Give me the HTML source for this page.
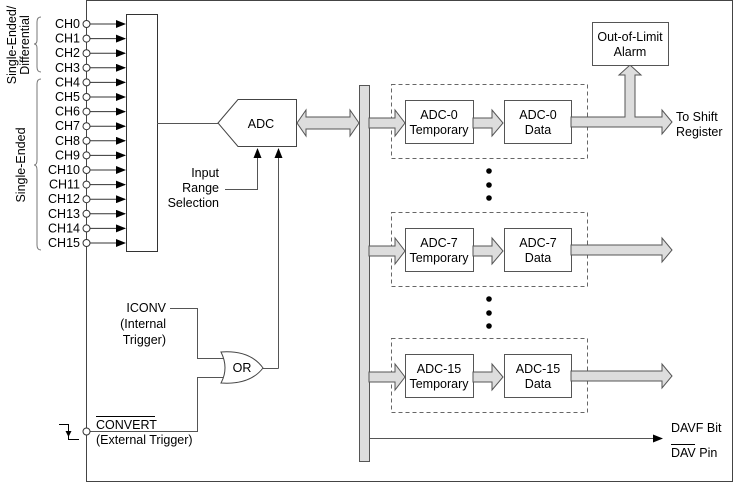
<!DOCTYPE html>
<html><head><meta charset="utf-8"><style>
html,body{margin:0;padding:0;background:#fff}
svg{display:block}
text{font-family:"Liberation Sans",Arial,sans-serif;font-size:12.5px;fill:#000}
</style></head><body>
<svg width="736" height="483" viewBox="0 0 736 483" xmlns="http://www.w3.org/2000/svg">
<defs>
<marker id="ah" markerWidth="10" markerHeight="8" refX="9" refY="4" orient="auto" markerUnits="userSpaceOnUse">
<path d="M0,0 L10,4 L0,8 Z" fill="#000"/></marker>
<g id="grp">
<rect x="391.5" y="84.5" width="196" height="74" fill="none" stroke="#666" stroke-dasharray="4,3"/>
<path d="M369,118 H395 V110 L405,123 L395,136 V128 H369 Z" fill="#ddd" stroke="#555"/>
<rect x="405.5" y="100.5" width="68" height="43" fill="#fff" stroke="#555"/>
<path d="M473,118 H492 V110 L503,123 L492,136 V128 H473 Z" fill="#ddd" stroke="#555"/>
<rect x="504.5" y="100.5" width="67" height="43" fill="#fff" stroke="#555"/>
</g>
</defs>
<path d="M86.5,0 V481.5 H732.5 V0.5 H86.5" fill="none" stroke="#444"/>
<path d="M41,17 Q37,17 37,22 V40 Q37,44 34,44 Q37,44 37,48 V67 Q37,72 41,72" fill="none" stroke="#777"/>
<path d="M41,79 Q37,79 37,84 V160 Q37,165 34,165 Q37,165 37,170 V245 Q37,250 41,250" fill="none" stroke="#777"/>
<text transform="translate(16,45) rotate(-90)" text-anchor="middle">Single-Ended/</text>
<text transform="translate(29,45) rotate(-90)" text-anchor="middle">Differential</text>
<text transform="translate(25,165) rotate(-90)" text-anchor="middle">Single-Ended</text>
<rect x="126.5" y="14.5" width="31" height="237" fill="#fff" stroke="#333"/>
<g>
<text x="80" y="28" text-anchor="end">CH0</text>
<text x="80" y="42.6" text-anchor="end">CH1</text>
<text x="80" y="57.2" text-anchor="end">CH2</text>
<text x="80" y="71.8" text-anchor="end">CH3</text>
<text x="80" y="86.4" text-anchor="end">CH4</text>
<text x="80" y="101" text-anchor="end">CH5</text>
<text x="80" y="115.6" text-anchor="end">CH6</text>
<text x="80" y="130.2" text-anchor="end">CH7</text>
<text x="80" y="144.8" text-anchor="end">CH8</text>
<text x="80" y="159.4" text-anchor="end">CH9</text>
<text x="80" y="174" text-anchor="end">CH10</text>
<text x="80" y="188.6" text-anchor="end">CH11</text>
<text x="80" y="203.2" text-anchor="end">CH12</text>
<text x="80" y="217.8" text-anchor="end">CH13</text>
<text x="80" y="232.4" text-anchor="end">CH14</text>
<text x="80" y="247" text-anchor="end">CH15</text>
</g>
<g stroke="#333" stroke-width="1" fill="#fff">
<line x1="90" y1="24" x2="125" y2="24" marker-end="url(#ah)"/><circle cx="86.5" cy="24" r="3.5"/>
<line x1="90" y1="38.6" x2="125" y2="38.6" marker-end="url(#ah)"/><circle cx="86.5" cy="38.6" r="3.5"/>
<line x1="90" y1="53.2" x2="125" y2="53.2" marker-end="url(#ah)"/><circle cx="86.5" cy="53.2" r="3.5"/>
<line x1="90" y1="67.8" x2="125" y2="67.8" marker-end="url(#ah)"/><circle cx="86.5" cy="67.8" r="3.5"/>
<line x1="90" y1="82.4" x2="125" y2="82.4" marker-end="url(#ah)"/><circle cx="86.5" cy="82.4" r="3.5"/>
<line x1="90" y1="97" x2="125" y2="97" marker-end="url(#ah)"/><circle cx="86.5" cy="97" r="3.5"/>
<line x1="90" y1="111.6" x2="125" y2="111.6" marker-end="url(#ah)"/><circle cx="86.5" cy="111.6" r="3.5"/>
<line x1="90" y1="126.2" x2="125" y2="126.2" marker-end="url(#ah)"/><circle cx="86.5" cy="126.2" r="3.5"/>
<line x1="90" y1="140.8" x2="125" y2="140.8" marker-end="url(#ah)"/><circle cx="86.5" cy="140.8" r="3.5"/>
<line x1="90" y1="155.4" x2="125" y2="155.4" marker-end="url(#ah)"/><circle cx="86.5" cy="155.4" r="3.5"/>
<line x1="90" y1="170" x2="125" y2="170" marker-end="url(#ah)"/><circle cx="86.5" cy="170" r="3.5"/>
<line x1="90" y1="184.6" x2="125" y2="184.6" marker-end="url(#ah)"/><circle cx="86.5" cy="184.6" r="3.5"/>
<line x1="90" y1="199.2" x2="125" y2="199.2" marker-end="url(#ah)"/><circle cx="86.5" cy="199.2" r="3.5"/>
<line x1="90" y1="213.8" x2="125" y2="213.8" marker-end="url(#ah)"/><circle cx="86.5" cy="213.8" r="3.5"/>
<line x1="90" y1="228.4" x2="125" y2="228.4" marker-end="url(#ah)"/><circle cx="86.5" cy="228.4" r="3.5"/>
<line x1="90" y1="243" x2="125" y2="243" marker-end="url(#ah)"/><circle cx="86.5" cy="243" r="3.5"/>
</g>
<line x1="157" y1="123.5" x2="218" y2="123.5" stroke="#555"/>
<path d="M218,123 L238,99.5 H296.5 V146.5 H238 Z" fill="#fff" stroke="#444"/>
<text x="261" y="128" text-anchor="middle">ADC</text>
<text x="219" y="177" text-anchor="end">Input</text>
<text x="219" y="192" text-anchor="end">Range</text>
<text x="219" y="207" text-anchor="end">Selection</text>
<path d="M225,189.5 H257.5 V149" fill="none" stroke="#555" marker-end="url(#ah)"/>
<path d="M278.5,368.5 H263 M278.5,368.5 V149" fill="none" stroke="#555" marker-end="url(#ah)"/>
<path d="M297,123 L306,110 V117 H350 V110 L359,123 L350,136 V129 H306 V136 Z" fill="#ddd" stroke="#555"/>
<rect x="359.5" y="85.5" width="10" height="376" fill="#ddd" stroke="#555"/>
<use href="#grp"/>
<use href="#grp" y="128"/>
<use href="#grp" y="254"/>
<text x="439" y="119" text-anchor="middle">ADC-0</text>
<text x="439" y="134" text-anchor="middle">Temporary</text>
<text x="538" y="119" text-anchor="middle">ADC-0</text>
<text x="538" y="134" text-anchor="middle">Data</text>
<text x="439" y="247" text-anchor="middle">ADC-7</text>
<text x="439" y="262" text-anchor="middle">Temporary</text>
<text x="538" y="247" text-anchor="middle">ADC-7</text>
<text x="538" y="262" text-anchor="middle">Data</text>
<text x="439" y="373" text-anchor="middle">ADC-15</text>
<text x="439" y="388" text-anchor="middle">Temporary</text>
<text x="538" y="373" text-anchor="middle">ADC-15</text>
<text x="538" y="388" text-anchor="middle">Data</text>
<path d="M571,117 H625 V75 H619 L630,65 L641,75 H635 V117 H662 V110 L672,122 L662,134 V127 H571 Z" fill="#ddd" stroke="#555"/>
<path d="M571,245 H662 V238 L672,250 L662,262 V255 H571 Z" fill="#ddd" stroke="#555"/>
<path d="M571,371 H662 V364 L672,376 L662,388 V381 H571 Z" fill="#ddd" stroke="#555"/>
<rect x="592.5" y="22.5" width="76" height="43" fill="#fff" stroke="#555"/>
<text x="630" y="41" text-anchor="middle">Out-of-Limit</text>
<text x="630" y="56" text-anchor="middle">Alarm</text>
<text x="676" y="121">To Shift</text>
<text x="676" y="136">Register</text>
<g fill="#000">
<circle cx="489" cy="171" r="2.8"/><circle cx="489" cy="185" r="2.8"/><circle cx="489" cy="198" r="2.8"/>
<circle cx="489" cy="299" r="2.8"/><circle cx="489" cy="313" r="2.8"/><circle cx="489" cy="326" r="2.8"/>
</g>
<line x1="370" y1="438.5" x2="662" y2="438.5" stroke="#555" marker-end="url(#ah)"/>
<text x="671" y="432">DAVF Bit</text>
<text x="671" y="457">DAV Pin</text>
<line x1="671" y1="444.5" x2="695" y2="444.5" stroke="#000"/>
<text x="166" y="312" text-anchor="end">ICONV</text>
<text x="166" y="328" text-anchor="end">(Internal</text>
<text x="166" y="344" text-anchor="end">Trigger)</text>
<path d="M170,308.5 H197.5 V358.5 H224" fill="none" stroke="#555"/>
<path d="M90,431.5 H197.5 V377.5 H224" fill="none" stroke="#555"/>
<path d="M221,352 Q250,350 263,368 Q250,385 221,383 Q229,368 221,352 Z" fill="#fff" stroke="#444"/>
<text x="242" y="372" text-anchor="middle">OR</text>
<circle cx="86.5" cy="431.5" r="3.5" fill="#fff" stroke="#333"/>
<text x="96" y="429">CONVERT</text>
<line x1="96" y1="416.5" x2="155" y2="416.5" stroke="#000"/>
<text x="96" y="444">(External Trigger)</text>
<path d="M59,424.5 H68.5 V439.5 H79" fill="none" stroke="#000"/>
<path d="M65.5,431 H71.5 L68.5,437 Z" fill="#000"/>
</svg>
</body></html>
